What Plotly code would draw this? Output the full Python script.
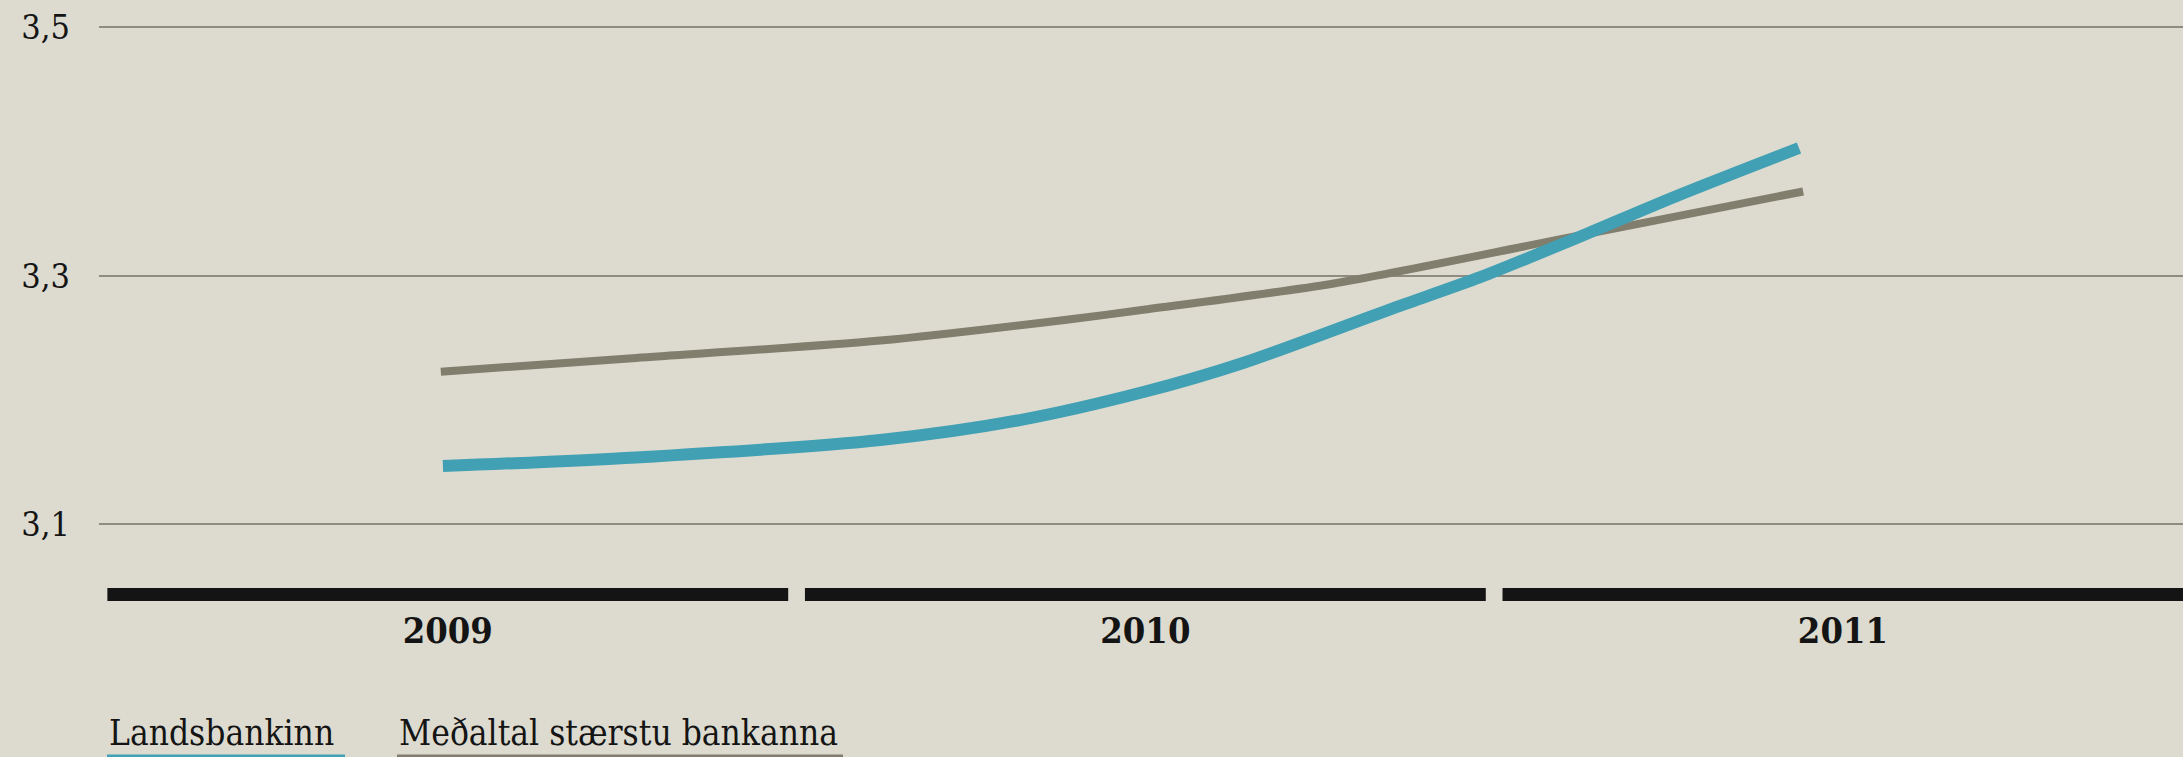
import plotly.graph_objects as go

# ── Gögn ──────────────────────────────────────────────
years = [2009, 2010, 2011]
year_labels = ["2009", "2010", "2011"]
y_ticks = [3.1, 3.3, 3.5]

# Landsbankinn
lb_x = [2008.993, 2009.27, 2009.62, 2009.82, 2010.0, 2010.14, 2010.35, 2010.48, 2010.62, 2010.76, 2010.937]
lb_y = [3.147, 3.154, 3.168, 3.184, 3.207, 3.230, 3.273, 3.299, 3.331, 3.364, 3.403]

# Meðaltal stærstu bankanna
avg_x = [2008.99, 2009.27, 2009.62, 2009.89, 2010.0, 2010.27, 2010.59, 2010.943]
avg_y = [3.223, 3.234, 3.248, 3.265, 3.273, 3.294, 3.329, 3.368]

# ── Litir og letur ────────────────────────────────────
BG = "#DDDBD0"
BLUE = "#41A0B3"
GREY = "#817E6E"
GRID = "#8E8B80"
INK = "#141414"
FONT = "DejaVu Serif Condensed, DejaVu Serif, serif"

W, H = 2183, 757
L, B = 99, 151
PLOT_H = H - B


def px_to_paper_y(p):
    return (PLOT_H - p) / PLOT_H


def px_to_paper_x(p):
    return (p - L) / (W - L)


# svartar stikur undir hverju ári
bar_x, bar_y = [], []
for yr in years:
    bar_x += [yr - 0.488, yr + 0.488, None]
    bar_y += [3.0437, 3.0437, None]

fig = go.Figure()
fig.add_trace(go.Scatter(x=bar_x, y=bar_y, mode="lines",
                         line=dict(color=INK, width=13), hoverinfo="skip"))
fig.add_trace(go.Scatter(x=avg_x, y=avg_y, mode="lines", name="Meðaltal stærstu bankanna",
                         line=dict(color=GREY, width=8, shape="spline", smoothing=0.8)))
fig.add_trace(go.Scatter(x=lb_x, y=lb_y, mode="lines", name="Landsbankinn",
                         line=dict(color=BLUE, width=12, shape="spline", smoothing=0.8)))

fig.update_layout(
    width=W, height=H,
    paper_bgcolor=BG, plot_bgcolor=BG,
    margin=dict(l=L, r=0, t=0, b=B),
    showlegend=False,
    separators=", ",
    font=dict(family=FONT, color=INK),
    xaxis=dict(range=[2008.5, 2011.4875], showgrid=False, zeroline=False, showline=False,
               tickvals=years, ticktext=year_labels, ticks="",
               tickfont=dict(size=36, weight="bold", color=INK, family=FONT)),
    yaxis=dict(range=[3.0344, 3.5221], tickvals=y_ticks, tickformat=".1f",
               showgrid=True, gridcolor=GRID, gridwidth=2, zeroline=False, showline=False,
               ticks="", ticklabelstandoff=28,
               tickfont=dict(size=34, color=INK, family=FONT)),
)

# skýringar neðst
legend_items = [("Landsbankinn", 107, 345, BLUE), ("Meðaltal stærstu bankanna", 397, 843, GREY)]
for text, x0, x1, col in legend_items:
    fig.add_annotation(text=text, xref="paper", yref="paper",
                       x=px_to_paper_x(x0), y=px_to_paper_y(733),
                       xanchor="left", yanchor="middle", showarrow=False,
                       font=dict(size=35, color=INK, family=FONT))
    fig.add_shape(type="line", xref="paper", yref="paper",
                  x0=px_to_paper_x(x0), x1=px_to_paper_x(x1),
                  y0=px_to_paper_y(756), y1=px_to_paper_y(756),
                  line=dict(color=col, width=3))

fig.write_html("out.html", config={"displayModeBar": False},
               post_script="document.body.style.margin='0';")
